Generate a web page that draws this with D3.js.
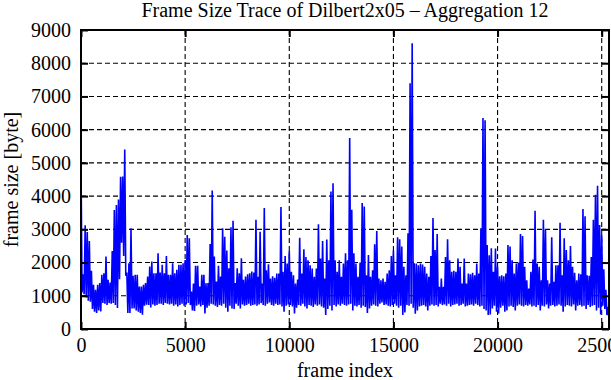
<!DOCTYPE html>
<html>
<head>
<meta charset="utf-8">
<script src="https://cdn.jsdelivr.net/npm/d3@7"></script>
<style>
  body { margin: 0; background: #fff; }
  svg text { font-family: "Liberation Serif", "Times New Roman", serif; fill: #000; }
</style>
</head>
<body>
<script>
var binStep = 100;

var hiVals = [
  5000, 1650, 3120, 2920, 2650, 1750, 1330, 1180, 1330, 1380,
  1630, 1680, 2180, 1480, 1400, 2350, 3580, 3730, 3900, 4580,
  4590, 5400, 1700, 1980, 3030, 1600, 1630, 1630, 1280, 1280,
  1330, 1380, 1580, 1880, 2030, 1680, 1680, 2280, 1700, 1930,
  1680, 2200, 1630, 1630, 1980, 1680, 1780, 1930, 1930, 1980,
  2080, 2830, 2730, 1130, 1370, 1900, 1900, 1280, 1630, 1630,
  1380, 1380, 2560, 4170, 2180, 1430, 1900, 1580, 3030, 2780,
  2360, 1830, 3060, 3260, 1380, 1830, 1680, 2130, 1480, 1580,
  1650, 1680, 1730, 1700, 3290, 1570, 2930, 1370, 3640, 1770,
  1950, 1520, 1590, 1540, 1670, 1670, 3670, 1720, 2200, 1970,
  2350, 1720, 1620, 1370, 1490, 2750, 1670, 2400, 2170, 2070,
  1920, 1820, 1570, 1820, 3150, 2120, 2650, 1520, 2690, 2070,
  4140, 4390, 2070, 1720, 2070, 1570, 1970, 2280, 2070, 5750,
  3590, 2280, 1970, 1570, 2000, 3790, 3690, 1620, 2230, 1570,
  1770, 2550, 2950, 1520, 1470, 1520, 1420, 1670, 1770, 2200,
  2360, 1620, 2760, 2700, 2480, 1870, 1620, 2880, 7400, 8600,
  1980, 1970, 1920, 1970, 1940, 1870, 1670, 1570, 2200, 3340,
  2380, 2860, 1270, 1520, 1270, 2170, 2700, 2070, 1720, 1750,
  1720, 2120, 1870, 1370, 2120, 1370, 1670, 1650, 1690, 1620,
  1970, 1670, 3030, 6350, 6280, 2530, 2220, 2430, 1720, 2420,
  1870, 1590, 1620, 1590, 1670, 2530, 2480, 2070, 1670, 1970,
  2000, 2860, 2800, 1870, 1470, 1220, 1720, 2090, 3560, 1970,
  1870, 1470, 3290, 3000, 1470, 1370, 2760, 1420, 1920, 1920,
  3200, 1620, 2730, 2380, 2070, 2500, 1870, 1690, 1470, 1670,
  1650, 3610, 3390, 1620, 1600, 2170, 3290, 4040, 4310, 3130,
  2830, 1800, 1180, 670
];

var loVals = [
  1100, 1050, 950, 850, 820, 600, 520, 480, 560, 530,
  780, 760, 720, 780, 760, 780, 720, 630, 1500, 2600,
  2200, 1600, 480, 480, 620, 620, 560, 520, 480, 430,
  700, 730, 720, 650, 740, 700, 720, 760, 760, 720,
  780, 760, 740, 760, 700, 740, 680, 720, 760, 700,
  740, 780, 720, 560, 540, 700, 740, 680, 720, 470,
  640, 700, 760, 740, 700, 660, 720, 700, 760, 640,
  520, 700, 620, 600, 760, 700, 620, 740, 700, 720,
  760, 700, 720, 740, 700, 740, 780, 720, 700, 760,
  800, 720, 700, 760, 720, 740, 680, 520, 700, 740,
  720, 680, 470, 640, 720, 700, 760, 680, 620, 720,
  700, 660, 740, 700, 740, 680, 640, 420, 600, 700,
  560, 720, 680, 740, 700, 760, 720, 700, 740, 760,
  560, 700, 680, 720, 640, 700, 660, 480, 620, 700,
  740, 700, 680, 760, 800, 720, 740, 700, 680, 720,
  760, 700, 640, 700, 420, 500, 720, 700, 760, 640,
  460, 560, 680, 700, 720, 680, 560, 700, 740, 700,
  720, 680, 760, 720, 740, 700, 760, 680, 720, 740,
  760, 700, 720, 760, 680, 700, 720, 740, 700, 760,
  720, 680, 700, 600, 560, 420, 440, 620, 700, 520,
  470, 640, 700, 520, 560, 680, 700, 660, 560, 700,
  740, 700, 680, 720, 700, 740, 680, 700, 660, 720,
  560, 700, 680, 740, 620, 700, 720, 680, 700, 740,
  700, 520, 680, 720, 700, 680, 740, 560, 700, 720,
  680, 700, 600, 720, 660, 700, 720, 560, 640, 440,
  700, 600, 420, 300
];

var xTickVals = [0, 5000, 10000, 15000, 20000, 25000];
var yTickVals = [0, 1000, 2000, 3000, 4000, 5000, 6000, 7000, 8000, 9000];

var titleText = "Frame Size Trace of Dilbert2x05 \u2013 Aggregation 12";
var xLabelText = "frame index";
var yLabelText = "frame size [byte]";

// max then min of every bin, in frame order
var trace = [];
hiVals.forEach(function(v, i) {
    trace.push({ frame: i * binStep, size: v });
    trace.push({ frame: i * binStep + binStep / 2, size: loVals[i] });
});

var W = 611, H = 380;
// plot box (note: "top" is taken by window.top, so use other names)
var pLeft = 81, pRight = 609, pTop = 30, pBottom = 329;

var svg = d3.select("body").append("svg")
    .attr("width", W)
    .attr("height", H);

var x = d3.scaleLinear().domain([0, 25350]).range([pLeft, pRight]);
var y = d3.scaleLinear().domain([0, 9000]).range([pBottom, pTop]);

// dashed grid
var grid = svg.append("g").attr("stroke", "#000").attr("stroke-width", 1.1)
    .attr("stroke-dasharray", "5,3").attr("fill", "none");
grid.selectAll(".gx").data(xTickVals.slice(1))
    .enter().append("line")
    .attr("x1", d => x(d)).attr("x2", d => x(d))
    .attr("y1", pTop).attr("y2", pBottom);
grid.selectAll(".gy").data(yTickVals.slice(1, -1))
    .enter().append("line")
    .attr("x1", pLeft).attr("x2", pRight)
    .attr("y1", d => y(d)).attr("y2", d => y(d));

// the trace
var line = d3.line()
    .x(d => x(d.frame))
    .y(d => y(d.size));

svg.append("clipPath").attr("id", "plotclip")
    .append("rect").attr("x", pLeft).attr("y", pTop)
    .attr("width", pRight - pLeft).attr("height", pBottom - pTop);

svg.append("path")
    .datum(trace)
    .attr("clip-path", "url(#plotclip)")
    .attr("fill", "none")
    .attr("stroke", "#0000ff")
    .attr("stroke-width", 1.6)
    .attr("stroke-linejoin", "miter")
    .attr("stroke-miterlimit", 2)
    .attr("d", line);

// axes, ticks pointing inwards on all four sides
var tickLen = 7;
function styleAxis(g) {
    g.select(".domain").remove();
    g.selectAll(".tick line").attr("stroke", "#000").attr("stroke-width", 2);
    g.selectAll(".tick text").style("font-size", "20px");
}

svg.append("g")
    .attr("transform", "translate(0," + pBottom + ")")
    .call(d3.axisBottom(x).tickValues(xTickVals).tickFormat(d3.format("d"))
        .tickSize(-tickLen).tickPadding(9))
    .call(styleAxis);
svg.append("g")
    .attr("transform", "translate(0," + pTop + ")")
    .call(d3.axisTop(x).tickValues(xTickVals).tickFormat("").tickSize(-tickLen))
    .call(styleAxis);
svg.append("g")
    .attr("transform", "translate(" + pLeft + ",0)")
    .call(d3.axisLeft(y).tickValues(yTickVals).tickFormat(d3.format("d"))
        .tickSize(-tickLen).tickPadding(10))
    .call(styleAxis);
svg.append("g")
    .attr("transform", "translate(" + pRight + ",0)")
    .call(d3.axisRight(y).tickValues(yTickVals).tickFormat("").tickSize(-tickLen))
    .call(styleAxis);

// border
svg.append("rect")
    .attr("x", pLeft).attr("y", pTop)
    .attr("width", pRight - pLeft).attr("height", pBottom - pTop)
    .attr("fill", "none").attr("stroke", "#000").attr("stroke-width", 2);

// titles
svg.append("text")
    .attr("x", (pLeft + pRight) / 2).attr("y", 17)
    .attr("text-anchor", "middle")
    .style("font-size", "20px")
    .text(titleText);

svg.append("text")
    .attr("x", (pLeft + pRight) / 2).attr("y", 377)
    .attr("text-anchor", "middle")
    .style("font-size", "20px")
    .text(xLabelText);

svg.append("text")
    .attr("transform", "translate(18," + ((pTop + pBottom) / 2) + ") rotate(-90)")
    .attr("text-anchor", "middle")
    .style("font-size", "20px")
    .text(yLabelText);
</script>
</body>
</html>
